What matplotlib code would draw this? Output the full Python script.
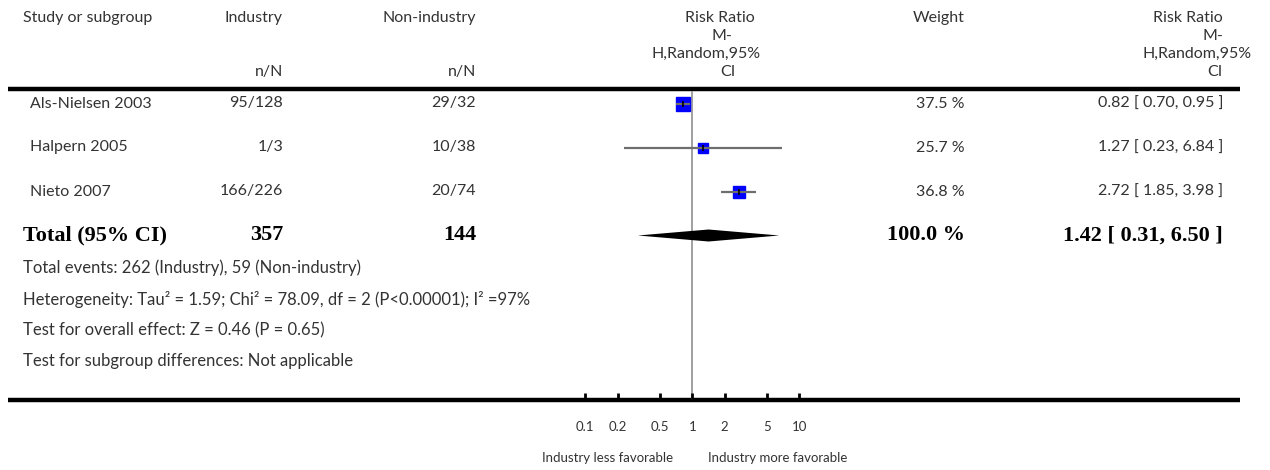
import matplotlib.pyplot as plt

# study data
studies = ['Als-Nielsen 2003', 'Halpern 2005', 'Nieto 2007']
industry_nN = ['95/128', '1/3', '166/226']
nonindustry_nN = ['29/32', '10/38', '20/74']
rr = [0.82, 1.27, 2.72]
ci_low = [0.70, 0.23, 1.85]
ci_high = [0.95, 6.84, 3.98]
weights = [37.5, 25.7, 36.8]

total_industry = 357
total_nonindustry = 144
total_rr = 1.42
total_low = 0.31
total_high = 6.50
total_weight = 100.0

footer = [
    'Total events: 262 (Industry), 59 (Non-industry)',
    'Heterogeneity: Tau² = 1.59; Chi² = 78.09, df = 2 (P<0.00001); I² =97%',
    'Test for overall effect: Z = 0.46 (P = 0.65)',
    'Test for subgroup differences: Not applicable',
]
tick_values = [0.1, 0.2, 0.5, 1, 2, 5, 10]
tick_labels = ['0.1', '0.2', '0.5', '1', '2', '5', '10']

SANS = ['Lato', 'DejaVu Sans']
SERIF = 'Liberation Serif'
TXT = '#333333'
FS = 11.5

W, H = 1270, 470
fig = plt.figure(figsize=(W / 100, H / 100), dpi=100)

# full-figure axes in pixel coordinates for the table text
bg = fig.add_axes([0, 0, 1, 1])
bg.set_xlim(0, W)
bg.set_ylim(H, 0)
bg.axis('off')


def txt(x, y, s, ha='left', bold=False, size=None, color=TXT):
    if bold:
        bg.text(x, y, s, ha=ha, va='center', fontsize=size or 16, family=SERIF,
                fontweight='bold', color='black')
    else:
        bg.text(x, y, s, ha=ha, va='center', fontsize=size or FS, family=SANS,
                color=color)


# header
hy = [18, 36, 54, 72]
txt(23, hy[0], 'Study or subgroup')
txt(283, hy[0], 'Industry', ha='right')
txt(476, hy[0], 'Non-industry', ha='right')
txt(283, hy[3], 'n/N', ha='right')
txt(476, hy[3], 'n/N', ha='right')
txt(720, hy[0], 'Risk Ratio', ha='center')
txt(722, hy[1], 'M-', ha='center')
txt(706, hy[2], 'H,Random,95%', ha='center')
txt(728, hy[3], 'CI', ha='center')
txt(939, hy[0], 'Weight', ha='center')
txt(1223, hy[0], 'Risk Ratio', ha='right')
txt(1223, hy[1], 'M-', ha='right')
txt(1252, hy[2], 'H,Random,95%', ha='right')
txt(1223, hy[3], 'CI', ha='right')

bg.plot([8, 1240], [89, 89], color='black', lw=3.2, solid_capstyle='butt')
bg.plot([8, 1240], [400, 400], color='black', lw=3.2, solid_capstyle='butt')

# study rows
row_y0, row_dy = 103.5, 44
for i, name in enumerate(studies):
    y = row_y0 + i * row_dy
    txt(30, y, name)
    txt(283, y, industry_nN[i], ha='right')
    txt(476, y, nonindustry_nN[i], ha='right')
    txt(965, y, f'{weights[i]:.1f} %', ha='right')
    txt(1223, y, f'{rr[i]:.2f} [ {ci_low[i]:.2f}, {ci_high[i]:.2f} ]', ha='right')

ty = row_y0 + len(studies) * row_dy
txt(23, ty, 'Total (95% CI)', bold=True)
txt(283, ty, str(total_industry), ha='right', bold=True)
txt(476, ty, str(total_nonindustry), ha='right', bold=True)
txt(965, ty, f'{total_weight:.1f} %', ha='right', bold=True)
txt(1223, ty, f'{total_rr:.2f} [ {total_low:.2f}, {total_high:.2f} ]', ha='right', bold=True)

for j, line in enumerate(footer):
    txt(23, 268 + j * 31, line, size=12)

# forest axes: log scale, 1 at x=692 px, one decade = 107 px
xmin, xmax = 0.05, 20
x1_px, dec_px = 692.3, 107
left_px = x1_px + dec_px * -1.30103
width_px = dec_px * 2.60206
top_px, bottom_px = 91, 400
ax = fig.add_axes([left_px / W, 1 - bottom_px / H, width_px / W, (bottom_px - top_px) / H])
ax.set_facecolor('none')
ax.set_xscale('log')
ax.set_xlim(xmin, xmax)
ylo = (top_px - row_y0) / row_dy
yhi = (bottom_px - row_y0) / row_dy
ax.set_ylim(yhi, ylo)

ax.axvline(1, color='#999999', lw=1.3, zorder=1)
for i in range(len(studies)):
    side = (6 + 0.19 * weights[i]) * 0.72
    ax.plot(rr[i], i, marker='s', ms=side, color='#0000ff', mec='#0000ff', zorder=2, ls='none')
    ax.plot([ci_low[i], ci_high[i]], [i, i], color='#6e6e6e', lw=1.6, zorder=3,
            solid_capstyle='butt')
    ax.plot(rr[i], i, marker='|', ms=5, mew=1.2, color='black', zorder=4, ls='none')

k = len(studies)
h = 6 / row_dy
ax.fill([total_low, total_rr, total_high, total_rr], [k, k - h, k, k + h],
        color='black', lw=0, zorder=3)

ax.set_xticks(tick_values)
ax.set_xticklabels(tick_labels)
ax.minorticks_off()
ax.tick_params(axis='x', direction='in', length=5, width=2, pad=15,
               labelsize=9.5, labelcolor='#333333')
for lab in ax.get_xticklabels():
    lab.set_family(SANS)
ax.set_yticks([])
for s in ['top', 'left', 'right', 'bottom']:
    ax.spines[s].set_visible(False)

txt(673, 458, 'Industry less favorable', ha='right', size=9.5)
txt(708, 458, 'Industry more favorable', ha='left', size=9.5)

fig.savefig('out.png', dpi=100)
